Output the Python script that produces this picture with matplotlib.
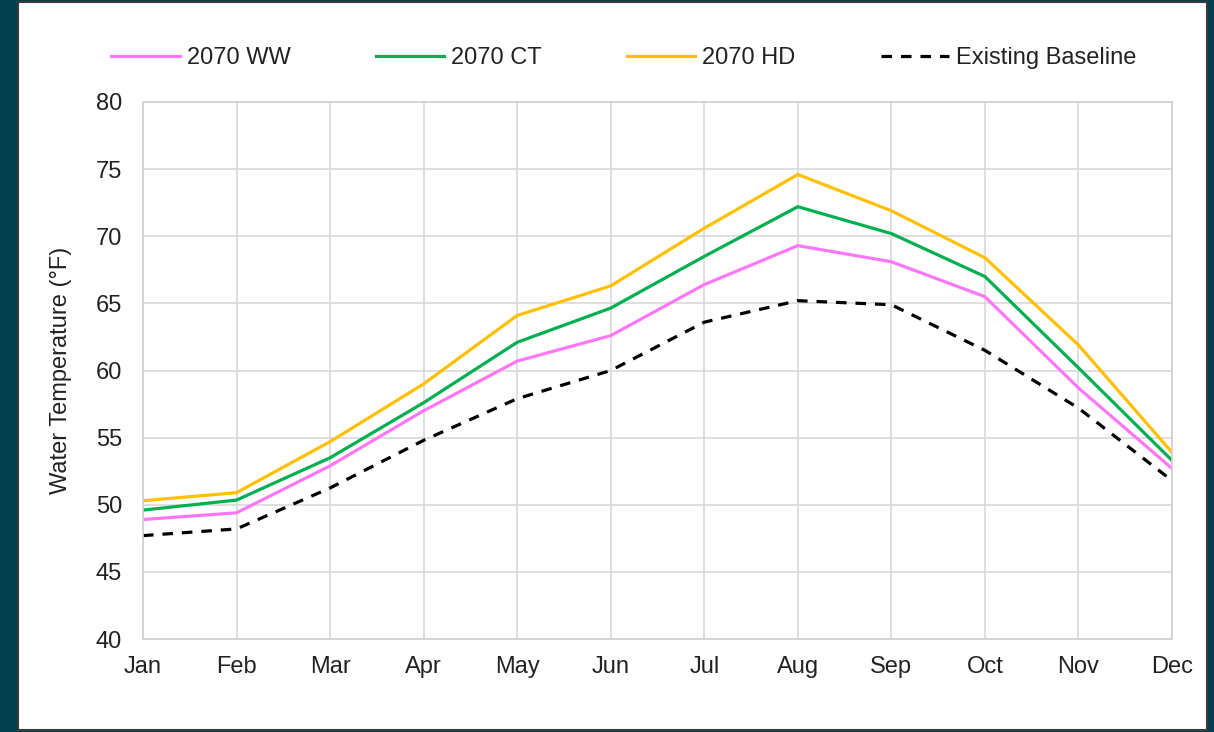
import matplotlib
matplotlib.use("Agg")
import matplotlib.pyplot as plt
from matplotlib.patches import Rectangle

months = ["Jan", "Feb", "Mar", "Apr", "May", "Jun", "Jul", "Aug", "Sep", "Oct", "Nov", "Dec"]
ww_2070 = [48.9, 49.4, 52.9, 57.0, 60.7, 62.6, 66.4, 69.3, 68.1, 65.5, 58.7, 52.7]
ct_2070 = [49.6, 50.35, 53.5, 57.6, 62.1, 64.65, 68.5, 72.2, 70.2, 67.0, 60.2, 53.3]
hd_2070 = [50.3, 50.9, 54.7, 59.0, 64.1, 66.3, 70.6, 74.6, 71.9, 68.4, 61.9, 53.9]
baseline = [47.7, 48.2, 51.25, 54.8, 57.9, 60.0, 63.6, 65.2, 64.9, 61.5, 57.2, 51.8]
y_ticks = [40, 45, 50, 55, 60, 65, 70, 75, 80]

plt.rcParams["font.family"] = ["Liberation Sans", "DejaVu Sans"]
FS = 17

fig = plt.figure(figsize=(12.14, 7.32), dpi=100)
fig.patch.set_facecolor("#04404f")
# white panel with thin dark frame
fig.patches.append(Rectangle((18 / 1214, 2 / 732), 1189 / 1214, 728 / 732,
                             transform=fig.transFigure, facecolor="white",
                             edgecolor="#3a3a3a", lw=1.5, zorder=-10))

ax = fig.add_axes([143 / 1214, 93 / 732, 1029 / 1214, 537 / 732])
x = range(len(months))
ax.plot(x, ww_2070, color="#ff77f7", lw=2.3, label="2070 WW")
ax.plot(x, ct_2070, color="#00b050", lw=2.3, label="2070 CT")
ax.plot(x, hd_2070, color="#ffc000", lw=2.3, label="2070 HD")
ax.plot(x, baseline, color="black", lw=2.3, ls=(0, (3.3, 2.8)), label="Existing Baseline")

ax.set_xlim(0, len(months) - 1)
ax.set_ylim(40, 80)
ax.set_xticks(list(x))
ax.set_xticklabels(months)
ax.set_yticks(y_ticks)
ax.tick_params(length=0, labelsize=FS, colors="#222222")
ax.tick_params(axis="y", pad=15)
ax.tick_params(axis="x", pad=12)
ax.grid(True, color="#d9d9d9", lw=1.2)
ax.set_axisbelow(True)
for s in ax.spines.values():
    s.set_color("#d0d0d0")
    s.set_linewidth(1.2)
ax.set_ylabel("Water Temperature (°F)", fontsize=FS, color="#222222", labelpad=17)

fig.legend(loc="center", bbox_to_anchor=(624 / 1214, 1 - 58 / 732), ncol=4,
           frameon=False, fontsize=FS, handlelength=2.9, columnspacing=3.6,
           handletextpad=0.3, labelcolor="#222222")

fig.savefig("out.png", dpi=100, facecolor=fig.get_facecolor())
